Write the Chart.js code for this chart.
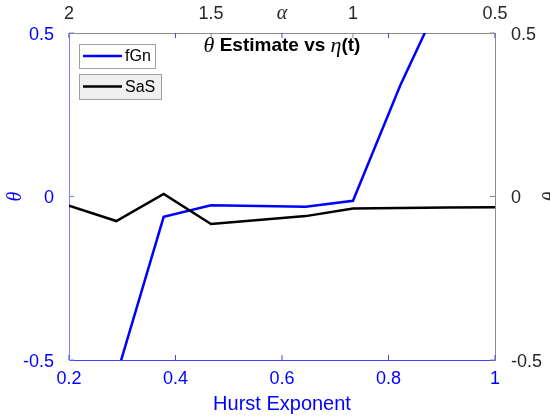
<!DOCTYPE html>
<html>
<head>
<meta charset="utf-8">
<script src="https://cdn.jsdelivr.net/npm/chart.js@4"></script>
<style>
  body { margin: 0; background: #fff; overflow: hidden; }
</style>
</head>
<body>
<canvas id="myChart" width="550" height="416"></canvas>
<script>
// data
const hurst = [0.2, 0.2889, 0.3778, 0.4667, 0.5556, 0.6444, 0.7333, 0.8222, 0.9111, 1.0];
const fgnTheta = [-0.95, -0.55, -0.062, -0.027, -0.029, -0.031, -0.013, 0.34, 0.65, 0.95];
const sasTheta = [-0.028, -0.075, 0.008, -0.084, -0.072, -0.060, -0.037, -0.035, -0.034, -0.033];
const hurstTicks = [0.2, 0.4, 0.6, 0.8, 1];
const alphaTicks = [2, 1.5, 1, 0.5];
const thetaTicks = [-0.5, 0, 0.5];

const blue = "#0000ff";
const grey = "#262626";
const sans = "'Liberation Sans', Arial, sans-serif";
const serif = "'Liberation Serif', 'Times New Roman', serif";

const toPoints = function (ys) {
    return hurst.map((h, i) => ({ x: h, y: ys[i] }));
};

const setTicks = function (list) {
    return function (scale) {
        scale.ticks = list.map((v) => ({ value: v }));
    };
};

// tick marks drawn inward, title, alpha label, legend boxes
const extras = {
    id: "extras",
    afterDraw(chart) {
        const c = chart.ctx;
        const a = chart.chartArea;
        const s = chart.scales;
        c.save();
        c.lineWidth = 1;

        // inward ticks
        c.strokeStyle = "#4040ff";
        hurstTicks.forEach((v) => {
            const px = s.x.getPixelForValue(v);
            c.beginPath();
            c.moveTo(px, a.bottom); c.lineTo(px, a.bottom - 5);
            c.moveTo(px, a.top); c.lineTo(px, a.top + 5);
            c.stroke();
        });
        c.strokeStyle = "#7f7fff";
        thetaTicks.forEach((v) => {
            const py = s.y.getPixelForValue(v);
            c.beginPath();
            c.moveTo(a.left, py); c.lineTo(a.left + 5, py);
            c.stroke();
        });
        c.strokeStyle = "#8c8c8c";
        alphaTicks.forEach((v) => {
            const px = s.x2.getPixelForValue(v);
            c.beginPath();
            c.moveTo(px, a.top); c.lineTo(px, a.top + 5);
            c.stroke();
        });
        thetaTicks.forEach((v) => {
            const py = s.y2.getPixelForValue(v);
            c.beginPath();
            c.moveTo(a.right, py); c.lineTo(a.right - 5, py);
            c.stroke();
        });

        // alpha label on the top axis
        c.fillStyle = grey;
        c.textAlign = "center";
        c.textBaseline = "middle";
        c.font = "italic 20px " + serif;
        c.fillText("α", s.x2.getPixelForValue(1.25), 14);

        // right axis label, mostly off the page
        c.save();
        c.translate(552, (a.top + a.bottom) / 2);
        c.rotate(-Math.PI / 2);
        c.fillText("θ", 0, 0);
        c.restore();

        // title
        const parts = [
            { t: "θ", f: "italic 22px " + serif },
            { t: " Estimate vs ", f: "bold 19px " + sans },
            { t: "η", f: "italic 22px " + serif },
            { t: "(t)", f: "bold 19px " + sans },
        ];
        let total = 0;
        parts.forEach((p) => { c.font = p.f; p.w = c.measureText(p.t).width; total += p.w; });
        let tx = (a.left + a.right) / 2 - total / 2;
        c.fillStyle = "#000";
        c.textAlign = "left";
        parts.forEach((p) => { c.font = p.f; c.fillText(p.t, tx, 46); tx += p.w; });

        // legend: one box per series
        const boxes = [
            { x: 79, y: 44, w: 76, h: 24, fill: "#ffffff" },
            { x: 79, y: 74, w: 82, h: 25, fill: "#f0f0f0" },
        ];
        chart.data.datasets.forEach((ds, i) => {
            const b = boxes[i];
            c.fillStyle = b.fill;
            c.fillRect(b.x, b.y, b.w, b.h);
            c.strokeStyle = "#a0a0a0";
            c.strokeRect(b.x + 0.5, b.y + 0.5, b.w, b.h);
            const ly = b.y + b.h / 2;
            c.strokeStyle = ds.borderColor;
            c.lineWidth = 2.5;
            c.beginPath();
            c.moveTo(b.x + 4, ly); c.lineTo(b.x + 43, ly);
            c.stroke();
            c.lineWidth = 1;
            c.fillStyle = "#000";
            c.font = "16px " + sans;
            c.textBaseline = "middle";
            c.fillText(ds.label, b.x + 46, ly + 1);
        });
        c.restore();
    },
};

const ctx = document.querySelector("#myChart");

new Chart(ctx, {
    type: "line",
    data: {
        datasets: [
            {
                label: "fGn",
                data: toPoints(fgnTheta),
                borderColor: blue,
                borderWidth: 2.5,
                pointRadius: 0,
                tension: 0,
                xAxisID: "x",
                yAxisID: "y",
                order: 1,
            },
            {
                label: "SaS",
                data: toPoints(sasTheta),
                borderColor: "#000000",
                borderWidth: 2.5,
                pointRadius: 0,
                tension: 0,
                xAxisID: "x",
                yAxisID: "y",
                order: 0,
            },
        ],
    },
    options: {
        responsive: false,
        animation: false,
        devicePixelRatio: 1,
        layout: { padding: 0 },
        plugins: {
            legend: { display: false },
            tooltip: { enabled: false },
        },
        scales: {
            x: {
                type: "linear",
                position: "bottom",
                min: 0.2,
                max: 1,
                afterBuildTicks: setTicks(hurstTicks),
                afterFit: (s) => { s.height = 56; },
                grid: { display: false },
                border: { display: true, color: "#4040ff" },
                ticks: {
                    color: blue,
                    padding: 0,
                    maxRotation: 0,
                    font: { family: sans, size: 18 },
                    callback: (v) => String(v),
                },
                title: {
                    display: true,
                    text: "Hurst Exponent",
                    color: blue,
                    padding: { top: 0, bottom: 0 },
                    font: { family: sans, size: 20 },
                },
            },
            x2: {
                type: "linear",
                position: "top",
                reverse: true,
                min: 0.5,
                max: 2,
                afterBuildTicks: setTicks(alphaTicks),
                afterFit: (s) => { s.height = 33; },
                grid: { display: false },
                border: { display: true, color: "#8c8c8c" },
                ticks: {
                    color: grey,
                    padding: 0,
                    maxRotation: 0,
                    font: { family: sans, size: 18 },
                    callback: (v) => String(v),
                },
            },
            y: {
                type: "linear",
                position: "left",
                min: -0.5,
                max: 0.5,
                afterBuildTicks: setTicks(thetaTicks),
                afterFit: (s) => { s.width = 69; },
                grid: { display: false },
                border: { display: true, color: "#7f7fff" },
                ticks: {
                    color: blue,
                    padding: 7,
                    labelOffset: 2,
                    font: { family: sans, size: 18 },
                    callback: (v) => String(v),
                },
                title: {
                    display: true,
                    text: "θ",
                    color: blue,
                    padding: { top: 4, bottom: 0 },
                    font: { family: serif, size: 20, style: "italic" },
                },
            },
            y2: {
                type: "linear",
                position: "right",
                min: -0.5,
                max: 0.5,
                afterBuildTicks: setTicks(thetaTicks),
                afterFit: (s) => { s.width = 55; },
                grid: { display: false },
                border: { display: true, color: "#8c8c8c" },
                ticks: {
                    color: grey,
                    padding: 8,
                    labelOffset: 2,
                    font: { family: sans, size: 18 },
                    callback: (v) => String(v),
                },
            },
        },
    },
    plugins: [extras],
});
</script>
</body>
</html>
